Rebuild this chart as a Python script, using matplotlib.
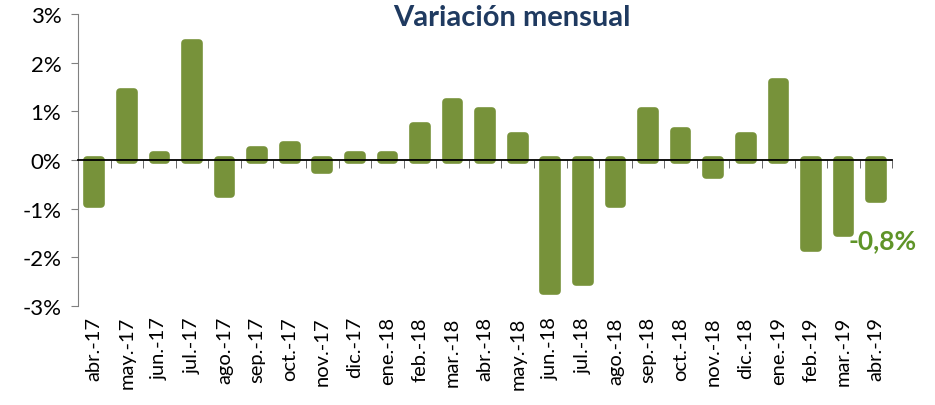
import numpy as np
import matplotlib
matplotlib.use("Agg")
import matplotlib.pyplot as plt
from matplotlib.ticker import FixedLocator
import matplotlib.transforms as mtransforms

months = ["abr.-17", "may.-17", "jun.-17", "jul.-17", "ago.-17", "sep.-17",
          "oct.-17", "nov.-17", "dic.-17", "ene.-18", "feb.-18", "mar.-18",
          "abr.-18", "may.-18", "jun.-18", "jul.-18", "ago.-18", "sep.-18",
          "oct.-18", "nov.-18", "dic.-18", "ene.-19", "feb.-19", "mar.-19",
          "abr.-19"]
variation = [-0.9, 1.4, 0.1, 2.4, -0.7, 0.2, 0.3, -0.2, 0.1, 0.1, 0.7, 1.2,
             1.0, 0.5, -2.7, -2.5, -0.9, 1.0, 0.6, -0.3, 0.5, 1.6, -1.8, -1.5,
             -0.8]
y_ticks = [-3, -2, -1, 0, 1, 2, 3]
last_label = "-0,8%"

plt.rcParams["font.family"] = ["Lato", "DejaVu Sans"]

BAR = "#77923a"
fig = plt.figure(figsize=(9.35, 4.06), dpi=100)
ax = fig.add_axes([0.0834, 0.244, 0.871, 0.719])

x = np.arange(len(months))
ax.bar(x, variation, width=0.42, color=BAR, edgecolor=BAR, linewidth=5.5,
       joinstyle="round", zorder=2)

ax.set_xlim(-0.5, len(months) - 0.5)
ax.set_ylim(-3, 3)
ax.set_yticks(y_ticks)
ax.set_yticklabels([f"{v}%" for v in y_ticks], fontsize=16)
ax.tick_params(axis="y", length=5, color="#808080", pad=7)

for side in ["top", "right"]:
    ax.spines[side].set_visible(False)
ax.spines["left"].set_color("#808080")
ax.spines["bottom"].set_position(("data", 0))
ax.spines["bottom"].set_color("black")
ax.spines["bottom"].set_linewidth(1.3)
ax.spines["bottom"].set_zorder(3)

ax.set_xticks([])
ax.xaxis.set_minor_locator(FixedLocator(np.arange(0.5, len(months), 1.0)))
ax.tick_params(axis="x", which="minor", length=6, color="#505050", direction="out")

trans = mtransforms.blended_transform_factory(ax.transData, ax.transAxes)
for i, m in enumerate(months):
    ax.text(i, -0.035, m, transform=trans, rotation=90, ha="center", va="top",
            fontsize=14.5)

fig.text(0.547, 0.955, "Variación mensual", ha="center", va="center",
         fontsize=21, fontweight="bold", color="#1f3a60")

ax.annotate(last_label, (x[-1], variation[-1]), xytext=(5, -30),
            textcoords="offset points", ha="center", va="center",
            fontsize=19, fontweight="bold", color="#5f9428", zorder=5,
            annotation_clip=False)

fig.savefig("out.png", dpi=100)
